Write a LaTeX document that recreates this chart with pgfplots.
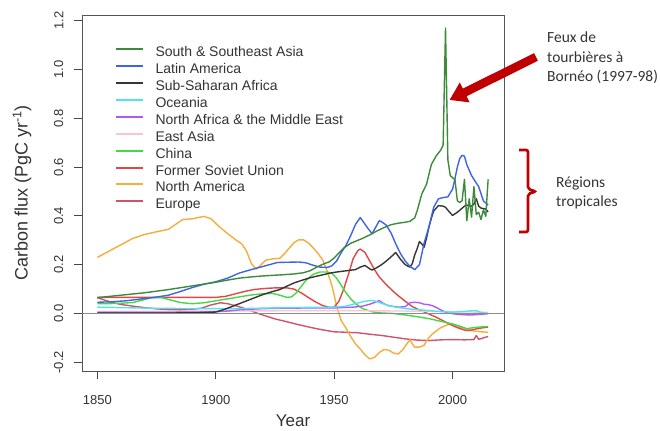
\documentclass[border=0pt]{standalone}
\usepackage{pgfplots}
\pgfplotsset{compat=1.18}
\usepackage{fontspec}
\setmainfont{Liberation Sans}
\newfontfamily\calibri{Carlito}
\usetikzlibrary{arrows.meta}

\definecolor{cSSEA}{HTML}{3B8B3B}
\definecolor{cLatAm}{HTML}{3F63E6}
\definecolor{cSSA}{HTML}{353535}
\definecolor{cOce}{HTML}{4FE5EE}
\definecolor{cNAME}{HTML}{B15AF0}
\definecolor{cEAsia}{HTML}{F7C6CF}
\definecolor{cChina}{HTML}{45D845}
\definecolor{cFSU}{HTML}{E54545}
\definecolor{cNAm}{HTML}{F5AD3C}
\definecolor{cEur}{HTML}{D3526A}
\definecolor{axisgray}{HTML}{555555}
\definecolor{tickgray}{HTML}{444444}
\definecolor{textgray}{HTML}{333333}
\definecolor{arrowred}{HTML}{C00000}
\definecolor{zerogray}{HTML}{8C8C8C}

\begin{document}
\begin{tikzpicture}
% page frame
\path (0,0) rectangle (660bp,431bp);
\begin{axis}[
  at={(82bp,60bp)}, anchor=south west,
  scale only axis, width=422bp, height=356bp,
  xmin=1843.5, xmax=2021.7, ymin=-0.2357, ymax=1.2234,
  axis line style={draw=axisgray, line width=0.9pt},
  xtick={1850,1900,1950,2000},
  ytick={-0.2,0,0.2,0.4,0.6,0.8,1.0,1.2},
  tick pos=left, tick align=outside,
  major tick length=8pt,
  tick style={color=tickgray, line width=1.1pt},
  /pgf/number format/assume math mode=true,
  xticklabel={\pgfmathprintnumber[1000 sep={}]{\tick}},
  yticklabel={\pgfmathprintnumber[fixed,fixed zerofill,precision=1]{\tick}},
  xticklabel style={anchor=north, inner sep=0pt, yshift=-16bp, text=textgray, font=\fontsize{13bp}{15bp}\selectfont},
  yticklabel style={rotate=90, anchor=south, inner sep=0pt, text=textgray, font=\fontsize{13bp}{15bp}\selectfont},
  yticklabel shift=10.5pt,
  xlabel={Year},
  xlabel style={at={(axis description cs:0.5,-0.1405)}, anchor=center, inner sep=0pt, text=textgray, font=\fontsize{17bp}{19bp}\selectfont},
  ylabel={Carbon flux (PgC yr\textsuperscript{-1})},
  ylabel style={at={(axis description cs:-0.1422,0.5)}, anchor=center, inner sep=0pt, text=textgray, font=\fontsize{18bp}{20bp}\selectfont},
  no markers,
  every axis plot/.append style={line width=1.4pt, line join=round},
  legend cell align=left,
  legend image code/.code={\draw[#1, line width=2pt] (0pt,4.5pt) -- (27pt,4.5pt); \path (39pt,0pt);},
  legend style={draw=none, fill=none, at={(0.0782,0.9087)}, anchor=north west,
    inner sep=0pt, outer sep=0pt, row sep=5pt,
    nodes={inner sep=0pt, text height=9pt, text depth=3pt, text=textgray,
      font=\fontsize{14bp}{16bp}\selectfont}},
]

% legend entries, in the order listed
\addlegendimage{cSSEA}\addlegendentry{South \& Southeast Asia}
\addlegendimage{cLatAm}\addlegendentry{Latin America}
\addlegendimage{cSSA}\addlegendentry{Sub-Saharan Africa}
\addlegendimage{cOce}\addlegendentry{Oceania}
\addlegendimage{cNAME}\addlegendentry{North Africa \& the Middle East}
\addlegendimage{cEAsia}\addlegendentry{East Asia}
\addlegendimage{cChina}\addlegendentry{China}
\addlegendimage{cFSU}\addlegendentry{Former Soviet Union}
\addlegendimage{cNAm}\addlegendentry{North America}
\addlegendimage{cEur}\addlegendentry{Europe}

% Europe
\addplot[cEur, forget plot] table[x=year,y=val] {
year val
1850 0.065
1853 0.055
1856 0.046
1860 0.037
1865 0.030
1870 0.024
1875 0.019
1880 0.016
1885 0.015
1890 0.017
1894 0.022
1898 0.035
1902 0.044
1905 0.040
1909 0.030
1913 0.018
1917 0.003
1921 -0.010
1925 -0.022
1930 -0.034
1935 -0.046
1940 -0.057
1945 -0.067
1950 -0.075
1955 -0.077
1960 -0.079
1965 -0.085
1970 -0.090
1975 -0.097
1980 -0.104
1985 -0.109
1990 -0.111
1995 -0.108
2000 -0.107
2005 -0.108
2009 -0.107
2010 -0.090
2011 -0.106
2013 -0.100
2015 -0.094
};

% North America
\addplot[cNAm, forget plot] table[x=year,y=val] {
year val
1850 0.230
1855 0.256
1860 0.282
1865 0.308
1870 0.324
1875 0.335
1880 0.345
1883 0.365
1886 0.385
1890 0.388
1895 0.398
1898 0.388
1901 0.360
1904 0.335
1908 0.305
1911 0.285
1913 0.255
1915 0.205
1917 0.182
1919 0.198
1921 0.218
1924 0.224
1927 0.226
1929 0.245
1931 0.268
1933 0.290
1935 0.302
1937 0.302
1939 0.290
1941 0.270
1943 0.248
1945 0.222
1947 0.175
1948 0.145
1949 0.115
1950 0.075
1951 0.030
1952 0.000
1953 -0.030
1955 -0.060
1957 -0.095
1959 -0.125
1961 -0.145
1963 -0.170
1965 -0.186
1967 -0.180
1969 -0.160
1971 -0.148
1973 -0.150
1975 -0.162
1977 -0.166
1979 -0.148
1981 -0.120
1982 -0.108
1983 -0.125
1984 -0.138
1986 -0.138
1988 -0.130
1989 -0.112
1991 -0.088
1993 -0.072
1995 -0.058
1997 -0.050
1999 -0.042
2001 -0.048
2003 -0.056
2006 -0.064
2009 -0.072
2012 -0.075
2015 -0.077
};

% Former Soviet Union
\addplot[cFSU, forget plot] table[x=year,y=val] {
year val
1850 0.066
1860 0.066
1870 0.066
1880 0.066
1890 0.066
1900 0.066
1904 0.070
1908 0.080
1912 0.090
1916 0.098
1920 0.102
1925 0.105
1930 0.105
1933 0.100
1936 0.085
1939 0.066
1942 0.048
1945 0.033
1948 0.025
1950 0.026
1952 0.050
1954 0.100
1956 0.160
1958 0.225
1960 0.258
1961 0.264
1963 0.250
1965 0.215
1967 0.180
1969 0.150
1972 0.118
1976 0.081
1980 0.050
1983 0.028
1987 0.010
1990 -0.002
1993 -0.015
1996 -0.030
1999 -0.045
2002 -0.058
2005 -0.068
2007 -0.070
2010 -0.063
2013 -0.058
2015 -0.056
};

% China
\addplot[cChina, forget plot] table[x=year,y=val] {
year val
1850 0.040
1858 0.041
1865 0.045
1869 0.055
1873 0.065
1877 0.065
1881 0.055
1885 0.045
1890 0.040
1895 0.044
1900 0.052
1905 0.060
1910 0.068
1915 0.076
1920 0.081
1924 0.082
1927 0.075
1930 0.066
1932 0.068
1934 0.085
1936 0.110
1938 0.135
1941 0.160
1944 0.170
1947 0.170
1949 0.165
1951 0.145
1953 0.115
1955 0.085
1957 0.060
1959 0.040
1962 0.020
1966 0.007
1970 0.002
1975 0.000
1980 -0.006
1985 -0.013
1990 -0.021
1995 -0.032
2000 -0.043
2003 -0.052
2006 -0.062
2009 -0.058
2012 -0.055
2015 -0.053
};

% East Asia
\addplot[cEAsia, forget plot] table[x=year,y=val] {
year val
1850 0.008
1900 0.010
1950 0.012
1980 0.010
2015 0.005
};

% North Africa & the Middle East
\addplot[cNAME, forget plot] table[x=year,y=val] {
year val
1850 0.005
1880 0.005
1900 0.007
1905 0.010
1910 0.015
1920 0.020
1930 0.022
1950 0.023
1958 0.026
1962 0.030
1965 0.038
1967 0.045
1969 0.053
1971 0.040
1973 0.032
1977 0.026
1980 0.028
1982 0.044
1984 0.046
1986 0.044
1988 0.038
1990 0.036
1992 0.030
1994 0.020
1996 0.010
1998 0.002
2001 -0.002
2004 -0.005
2008 -0.006
2011 -0.004
2015 -0.001
};

% Oceania
\addplot[cOce, forget plot] table[x=year,y=val] {
year val
1850 0.026
1870 0.022
1890 0.020
1910 0.020
1930 0.024
1950 0.026
1955 0.030
1958 0.038
1962 0.048
1965 0.053
1967 0.052
1970 0.042
1973 0.032
1976 0.026
1980 0.020
1985 0.016
1990 0.012
1995 0.008
2000 0.005
2004 0.008
2008 0.011
2010 0.012
2012 0.004
2015 0.000
};

% Sub-Saharan Africa
\addplot[cSSA, forget plot] table[x=year,y=val] {
year val
1850 0.002
1880 0.002
1895 0.003
1900 0.006
1904 0.018
1908 0.033
1912 0.048
1916 0.063
1920 0.078
1924 0.090
1927 0.098
1930 0.112
1933 0.125
1936 0.135
1940 0.147
1944 0.156
1948 0.165
1951 0.170
1955 0.175
1959 0.180
1961 0.190
1963 0.197
1965 0.183
1966 0.178
1968 0.188
1970 0.200
1972 0.215
1974 0.232
1976 0.250
1978 0.222
1980 0.200
1982 0.190
1983 0.205
1984 0.240
1985 0.265
1986 0.295
1987 0.285
1988 0.272
1989 0.310
1990 0.354
1991 0.390
1992 0.420
1994 0.442
1996 0.440
1997 0.435
1999 0.412
2000 0.402
2002 0.415
2003 0.423
2005 0.440
2006 0.444
2008 0.440
2009 0.448
2010 0.470
2011 0.440
2012 0.432
2014 0.428
2015 0.416
};

% Latin America
\addplot[cLatAm, forget plot] table[x=year,y=val] {
year val
1850 0.046
1856 0.048
1862 0.052
1868 0.059
1874 0.066
1880 0.075
1885 0.090
1890 0.106
1895 0.120
1900 0.130
1905 0.145
1910 0.166
1915 0.180
1920 0.193
1926 0.209
1930 0.210
1935 0.211
1938 0.208
1941 0.198
1944 0.190
1947 0.189
1949 0.195
1951 0.215
1953 0.250
1955 0.280
1957 0.320
1959 0.365
1961 0.393
1962 0.380
1964 0.352
1966 0.327
1968 0.362
1969 0.380
1970 0.376
1972 0.362
1974 0.330
1976 0.285
1978 0.245
1980 0.215
1982 0.193
1984 0.180
1986 0.200
1987 0.245
1988 0.290
1990 0.355
1992 0.435
1994 0.470
1996 0.475
1998 0.478
2000 0.510
2001 0.553
2002 0.600
2003 0.635
2004 0.648
2005 0.645
2006 0.610
2008 0.565
2010 0.535
2011 0.520
2013 0.462
2015 0.444
};

% South & Southeast Asia
\addplot[cSSEA, forget plot] table[x=year,y=val] {
year val
1850 0.065
1860 0.075
1870 0.085
1880 0.098
1890 0.113
1900 0.128
1905 0.137
1910 0.145
1915 0.150
1920 0.154
1927 0.158
1933 0.162
1937 0.167
1940 0.176
1943 0.192
1946 0.205
1948 0.212
1950 0.228
1952 0.248
1954 0.268
1957 0.288
1960 0.300
1962 0.308
1965 0.322
1968 0.338
1971 0.352
1974 0.364
1977 0.370
1980 0.374
1982 0.378
1984 0.392
1985 0.420
1986 0.455
1987 0.490
1989 0.530
1991 0.610
1993 0.645
1995 0.670
1996 0.690
1997 1.170
1998 0.630
1999 0.565
2001 0.548
2002 0.462
2003 0.455
2004 0.462
2005 0.550
2006 0.380
2007 0.470
2008 0.395
2009 0.520
2010 0.405
2011 0.415
2012 0.385
2013 0.425
2014 0.398
2015 0.550
};

% zero reference line
\addplot[zerogray, line width=1pt, forget plot] coordinates {(1843.5,0) (2021.7,0)};
\end{axis}

% annotation: peat fires
\draw[arrowred, line width=8.5bp, -{Triangle[width=21bp,length=17bp]}] (536bp,374bp) -- (449.5bp,331bp);
\begin{scope}[every node/.style={anchor=base west, inner sep=0pt, text=textgray,
    font=\calibri\fontsize{15.5bp}{19bp}\selectfont}]
  \node at (547bp,388.5bp) {Feux de};
  \node at (547bp,368.5bp) {tourbières à};
  \node at (547bp,349.5bp) {Bornéo (1997-98)};
  \node at (556bp,243bp) {Régions};
  \node at (556bp,224.5bp) {tropicales};
\end{scope}

% bracket for the tropical regions
\draw[arrowred, line width=2.6bp, rounded corners=2bp]
  (519bp,281bp) -- (528bp,281bp) -- (528bp,242bp) -- (536bp,239.5bp)
  -- (528bp,237bp) -- (528bp,199bp) -- (519bp,199bp);
\end{tikzpicture}
\end{document}
